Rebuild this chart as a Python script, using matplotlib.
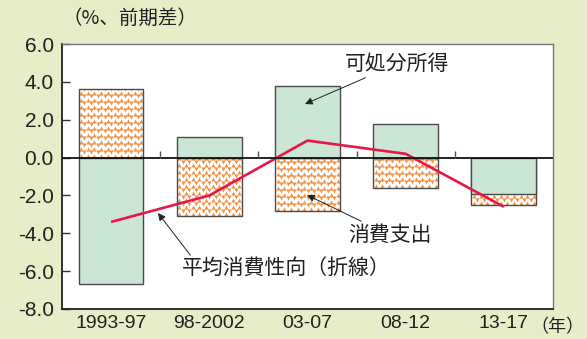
import numpy as np
import matplotlib
matplotlib.use('Agg')
import matplotlib.pyplot as plt
from matplotlib.patches import Rectangle

# データ（前期差、%）
categories = ['1993-97', '98-2002', '03-07', '08-12', '13-17']
disposable_income = [-6.7, 1.1, 3.8, 1.8, -1.9]
consumption = [3.6, -3.1, -2.8, -1.6, -2.5]
propensity = [-3.4, -2.0, 0.9, 0.2, -2.6]
y_ticks = [6.0, 4.0, 2.0, 0.0, -2.0, -4.0, -6.0, -8.0]

BG = '#e5eec6'
GREEN = '#cce6d5'
ORANGE = '#f39245'
RED = '#e8174a'
EDGE = '#4a4a4a'
TXT = '#231f20'
JP = ['Noto Sans CJK JP', 'DejaVu Sans']
NUM = ['Liberation Sans', 'Noto Sans CJK JP']

fig = plt.figure(figsize=(5.87, 3.39), dpi=100, facecolor=BG)
ax = fig.add_axes([0.1056, 0.0885, 0.8364, 0.7815])
ax.set_facecolor('white')

x = np.arange(len(categories))
w = 0.66

# 消費支出: 三角模様のバー
for xi, v in zip(x, consumption):
    rect = Rectangle((xi - w / 2, 0), w, v, facecolor='white', edgecolor='none', zorder=2)
    ax.add_patch(rect)
    lo, hi = min(0, v), max(0, v)
    gx = np.arange(xi - w / 2 + 0.025, xi + w / 2 + 0.07, 0.068)
    gy = np.arange(lo + 0.1, hi + 0.38, 0.37)
    X, Y = np.meshgrid(gx, gy)
    s1 = ax.scatter(X.ravel(), Y.ravel(), marker='^', s=9, color=ORANGE,
                    linewidths=0, zorder=3)
    s2 = ax.scatter(X.ravel() + 0.034, Y.ravel() + 0.185, marker='v', s=9,
                    color=ORANGE, linewidths=0, zorder=3)
    s1.set_clip_path(rect)
    s2.set_clip_path(rect)
    ax.bar(xi, v, width=w, facecolor='none', edgecolor=EDGE, linewidth=1.0, zorder=4)

# 可処分所得
ax.bar(x, disposable_income, width=w, color=GREEN, edgecolor=EDGE, linewidth=1.0, zorder=5)

# 平均消費性向（折線）
ax.plot(x, propensity, color=RED, linewidth=1.9, zorder=6, solid_capstyle='butt')

# ゼロ線と区切り目盛
ax.axhline(0, color='#111111', linewidth=1.3, zorder=7)
ax.vlines(x[:-1] + 0.5, 0, 0.36, color='#555555', linewidth=1.0, zorder=7)

ax.set_xlim(-0.5, len(categories) - 0.5)
ax.set_ylim(-8, 6)
ax.set_yticks(y_ticks)
ax.set_yticklabels([f'{t:.1f}' for t in y_ticks], family=NUM, fontsize=15, color=TXT)
ax.set_xticks(x)
ax.set_xticklabels(categories, family=NUM, fontsize=14, color=TXT)
ax.tick_params(axis='y', direction='in', length=6, width=1.0, color='#333333', pad=6)
ax.tick_params(axis='x', length=0, pad=4)

for side in ['left', 'bottom']:
    ax.spines[side].set_color('#222222')
    ax.spines[side].set_linewidth(1.3)
for side in ['top', 'right']:
    ax.spines[side].set_color('#777777')
    ax.spines[side].set_linewidth(1.0)

fig.text(0.107, 0.945, '（%、前期差）', family=JP, fontsize=14, color=TXT, ha='left', va='center')
fig.text(0.996, 0.035, '（年）', family=JP, fontsize=13, color=TXT, ha='right', va='center')

arrow = dict(arrowstyle='-|>', color='#222222', linewidth=0.7, mutation_scale=11)
ax.annotate('可処分所得', xy=(305 / 587, 1 - 104 / 339), xycoords='figure fraction',
            xytext=(345 / 587, 1 - 64 / 339), textcoords='figure fraction',
            family=JP, fontsize=15, color=TXT, va='center', ha='left',
            arrowprops=dict(arrow, shrinkA=0, shrinkB=0), zorder=8)
ax.annotate('消費支出', xy=(307 / 587, 1 - 195 / 339), xycoords='figure fraction',
            xytext=(348 / 587, 1 - 235 / 339), textcoords='figure fraction',
            family=JP, fontsize=15, color=TXT, va='center', ha='left',
            arrowprops=dict(arrow, shrinkA=0, shrinkB=0), zorder=8)
ax.annotate('平均消費性向（折線）', xy=(158 / 587, 1 - 213 / 339), xycoords='figure fraction',
            xytext=(182 / 587, 1 - 269 / 339), textcoords='figure fraction',
            family=JP, fontsize=15, color=TXT, va='center', ha='left',
            arrowprops=dict(arrow, shrinkA=0, shrinkB=0,
                            relpos=(0.05, 1.0)), zorder=8)

fig.savefig('out.png', dpi=100, facecolor=BG)
